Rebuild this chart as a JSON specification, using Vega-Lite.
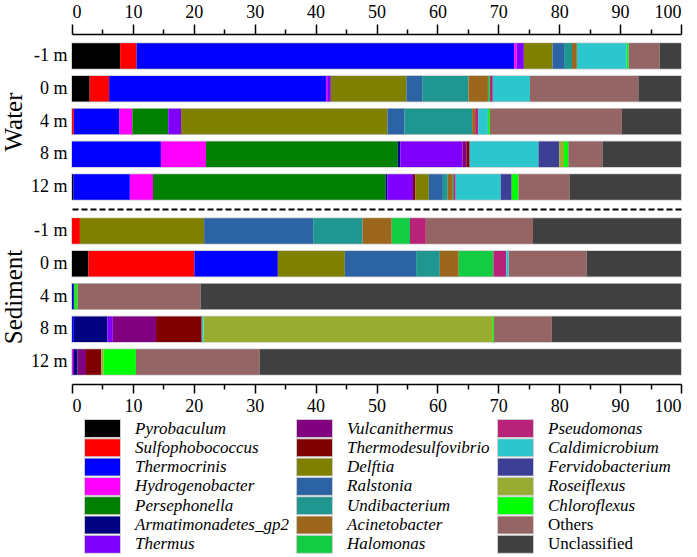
{
  "$schema": "https://vega.github.io/schema/vega-lite/v6.json",
  "padding": {"left": 1, "top": 3, "right": 3, "bottom": 0},
  "config": {
    "font": "Liberation Serif",
    "view": {"stroke": null},
    "concat": {"spacing": 0},
    "axis": {"labelFont": "Liberation Serif", "titleFont": "Liberation Serif", "labelColor": "#000", "titleColor": "#000", "domainColor": "#000", "tickColor": "#000"}
  },
  "datasets": {
    "taxa": [
      {"taxon": "Pyrobaculum", "rank": 0},
      {"taxon": "Sulfophobococcus", "rank": 1},
      {"taxon": "Thermocrinis", "rank": 2},
      {"taxon": "Hydrogenobacter", "rank": 3},
      {"taxon": "Persephonella", "rank": 4},
      {"taxon": "Armatimonadetes_gp2", "rank": 5},
      {"taxon": "Thermus", "rank": 6},
      {"taxon": "Vulcanithermus", "rank": 7},
      {"taxon": "Thermodesulfovibrio", "rank": 8},
      {"taxon": "Delftia", "rank": 9},
      {"taxon": "Ralstonia", "rank": 10},
      {"taxon": "Undibacterium", "rank": 11},
      {"taxon": "Acinetobacter", "rank": 12},
      {"taxon": "Halomonas", "rank": 13},
      {"taxon": "Pseudomonas", "rank": 14},
      {"taxon": "Caldimicrobium", "rank": 15},
      {"taxon": "Fervidobacterium", "rank": 16},
      {"taxon": "Roseiflexus", "rank": 17},
      {"taxon": "Chloroflexus", "rank": 18},
      {"taxon": "Others", "rank": 19},
      {"taxon": "Unclassified", "rank": 20}
    ],
    "comp": [
      {"env": "Water", "depth": "-1 m", "taxon": "Pyrobaculum", "pct": 7.9},
      {"env": "Water", "depth": "-1 m", "taxon": "Sulfophobococcus", "pct": 2.7},
      {"env": "Water", "depth": "-1 m", "taxon": "Thermocrinis", "pct": 62.0},
      {"env": "Water", "depth": "-1 m", "taxon": "Hydrogenobacter", "pct": 0.4},
      {"env": "Water", "depth": "-1 m", "taxon": "Thermus", "pct": 1.2},
      {"env": "Water", "depth": "-1 m", "taxon": "Delftia", "pct": 4.7},
      {"env": "Water", "depth": "-1 m", "taxon": "Ralstonia", "pct": 1.9},
      {"env": "Water", "depth": "-1 m", "taxon": "Undibacterium", "pct": 1.3},
      {"env": "Water", "depth": "-1 m", "taxon": "Acinetobacter", "pct": 0.8},
      {"env": "Water", "depth": "-1 m", "taxon": "Caldimicrobium", "pct": 8.2},
      {"env": "Water", "depth": "-1 m", "taxon": "Chloroflexus", "pct": 0.3},
      {"env": "Water", "depth": "-1 m", "taxon": "Others", "pct": 5.1},
      {"env": "Water", "depth": "-1 m", "taxon": "Unclassified", "pct": 3.5},

      {"env": "Water", "depth": "0 m", "taxon": "Pyrobaculum", "pct": 2.9},
      {"env": "Water", "depth": "0 m", "taxon": "Sulfophobococcus", "pct": 3.2},
      {"env": "Water", "depth": "0 m", "taxon": "Thermocrinis", "pct": 35.6},
      {"env": "Water", "depth": "0 m", "taxon": "Hydrogenobacter", "pct": 0.2},
      {"env": "Water", "depth": "0 m", "taxon": "Thermus", "pct": 0.6},
      {"env": "Water", "depth": "0 m", "taxon": "Delftia", "pct": 12.4},
      {"env": "Water", "depth": "0 m", "taxon": "Ralstonia", "pct": 2.6},
      {"env": "Water", "depth": "0 m", "taxon": "Undibacterium", "pct": 7.6},
      {"env": "Water", "depth": "0 m", "taxon": "Acinetobacter", "pct": 3.2},
      {"env": "Water", "depth": "0 m", "taxon": "Halomonas", "pct": 0.3},
      {"env": "Water", "depth": "0 m", "taxon": "Pseudomonas", "pct": 0.5},
      {"env": "Water", "depth": "0 m", "taxon": "Caldimicrobium", "pct": 6.1},
      {"env": "Water", "depth": "0 m", "taxon": "Others", "pct": 17.8},
      {"env": "Water", "depth": "0 m", "taxon": "Unclassified", "pct": 7.0},

      {"env": "Water", "depth": "4 m", "taxon": "Sulfophobococcus", "pct": 0.3},
      {"env": "Water", "depth": "4 m", "taxon": "Thermocrinis", "pct": 7.5},
      {"env": "Water", "depth": "4 m", "taxon": "Hydrogenobacter", "pct": 2.1},
      {"env": "Water", "depth": "4 m", "taxon": "Persephonella", "pct": 5.9},
      {"env": "Water", "depth": "4 m", "taxon": "Thermus", "pct": 2.1},
      {"env": "Water", "depth": "4 m", "taxon": "Delftia", "pct": 33.9},
      {"env": "Water", "depth": "4 m", "taxon": "Ralstonia", "pct": 2.8},
      {"env": "Water", "depth": "4 m", "taxon": "Undibacterium", "pct": 11.1},
      {"env": "Water", "depth": "4 m", "taxon": "Acinetobacter", "pct": 0.5},
      {"env": "Water", "depth": "4 m", "taxon": "Pseudomonas", "pct": 0.5},
      {"env": "Water", "depth": "4 m", "taxon": "Caldimicrobium", "pct": 1.6},
      {"env": "Water", "depth": "4 m", "taxon": "Chloroflexus", "pct": 0.3},
      {"env": "Water", "depth": "4 m", "taxon": "Others", "pct": 21.7},
      {"env": "Water", "depth": "4 m", "taxon": "Unclassified", "pct": 9.7},

      {"env": "Water", "depth": "8 m", "taxon": "Thermocrinis", "pct": 14.6},
      {"env": "Water", "depth": "8 m", "taxon": "Hydrogenobacter", "pct": 7.4},
      {"env": "Water", "depth": "8 m", "taxon": "Persephonella", "pct": 31.5},
      {"env": "Water", "depth": "8 m", "taxon": "Armatimonadetes_gp2", "pct": 0.4},
      {"env": "Water", "depth": "8 m", "taxon": "Thermus", "pct": 10.2},
      {"env": "Water", "depth": "8 m", "taxon": "Vulcanithermus", "pct": 0.7},
      {"env": "Water", "depth": "8 m", "taxon": "Thermodesulfovibrio", "pct": 0.5},
      {"env": "Water", "depth": "8 m", "taxon": "Caldimicrobium", "pct": 11.3},
      {"env": "Water", "depth": "8 m", "taxon": "Fervidobacterium", "pct": 3.4},
      {"env": "Water", "depth": "8 m", "taxon": "Roseiflexus", "pct": 0.8},
      {"env": "Water", "depth": "8 m", "taxon": "Chloroflexus", "pct": 0.7},
      {"env": "Water", "depth": "8 m", "taxon": "Others", "pct": 5.6},
      {"env": "Water", "depth": "8 m", "taxon": "Unclassified", "pct": 12.9},

      {"env": "Water", "depth": "12 m", "taxon": "Pyrobaculum", "pct": 0.2},
      {"env": "Water", "depth": "12 m", "taxon": "Thermocrinis", "pct": 9.3},
      {"env": "Water", "depth": "12 m", "taxon": "Hydrogenobacter", "pct": 3.8},
      {"env": "Water", "depth": "12 m", "taxon": "Persephonella", "pct": 38.2},
      {"env": "Water", "depth": "12 m", "taxon": "Armatimonadetes_gp2", "pct": 0.3},
      {"env": "Water", "depth": "12 m", "taxon": "Thermus", "pct": 4.2},
      {"env": "Water", "depth": "12 m", "taxon": "Thermodesulfovibrio", "pct": 0.4},
      {"env": "Water", "depth": "12 m", "taxon": "Delftia", "pct": 2.2},
      {"env": "Water", "depth": "12 m", "taxon": "Ralstonia", "pct": 2.3},
      {"env": "Water", "depth": "12 m", "taxon": "Undibacterium", "pct": 0.8},
      {"env": "Water", "depth": "12 m", "taxon": "Acinetobacter", "pct": 0.7},
      {"env": "Water", "depth": "12 m", "taxon": "Halomonas", "pct": 0.2},
      {"env": "Water", "depth": "12 m", "taxon": "Pseudomonas", "pct": 0.4},
      {"env": "Water", "depth": "12 m", "taxon": "Caldimicrobium", "pct": 7.4},
      {"env": "Water", "depth": "12 m", "taxon": "Fervidobacterium", "pct": 1.8},
      {"env": "Water", "depth": "12 m", "taxon": "Chloroflexus", "pct": 1.1},
      {"env": "Water", "depth": "12 m", "taxon": "Others", "pct": 8.4},
      {"env": "Water", "depth": "12 m", "taxon": "Unclassified", "pct": 18.3},

      {"env": "Sediment", "depth": "-1 m", "taxon": "Sulfophobococcus", "pct": 1.3},
      {"env": "Sediment", "depth": "-1 m", "taxon": "Delftia", "pct": 20.4},
      {"env": "Sediment", "depth": "-1 m", "taxon": "Ralstonia", "pct": 17.9},
      {"env": "Sediment", "depth": "-1 m", "taxon": "Undibacterium", "pct": 8.1},
      {"env": "Sediment", "depth": "-1 m", "taxon": "Acinetobacter", "pct": 4.8},
      {"env": "Sediment", "depth": "-1 m", "taxon": "Halomonas", "pct": 3.0},
      {"env": "Sediment", "depth": "-1 m", "taxon": "Pseudomonas", "pct": 2.6},
      {"env": "Sediment", "depth": "-1 m", "taxon": "Others", "pct": 17.6},
      {"env": "Sediment", "depth": "-1 m", "taxon": "Unclassified", "pct": 24.3},

      {"env": "Sediment", "depth": "0 m", "taxon": "Pyrobaculum", "pct": 2.7},
      {"env": "Sediment", "depth": "0 m", "taxon": "Sulfophobococcus", "pct": 17.4},
      {"env": "Sediment", "depth": "0 m", "taxon": "Thermocrinis", "pct": 13.7},
      {"env": "Sediment", "depth": "0 m", "taxon": "Delftia", "pct": 11.0},
      {"env": "Sediment", "depth": "0 m", "taxon": "Ralstonia", "pct": 11.7},
      {"env": "Sediment", "depth": "0 m", "taxon": "Undibacterium", "pct": 3.9},
      {"env": "Sediment", "depth": "0 m", "taxon": "Acinetobacter", "pct": 3.1},
      {"env": "Sediment", "depth": "0 m", "taxon": "Halomonas", "pct": 5.7},
      {"env": "Sediment", "depth": "0 m", "taxon": "Pseudomonas", "pct": 2.1},
      {"env": "Sediment", "depth": "0 m", "taxon": "Caldimicrobium", "pct": 0.4},
      {"env": "Sediment", "depth": "0 m", "taxon": "Others", "pct": 12.8},
      {"env": "Sediment", "depth": "0 m", "taxon": "Unclassified", "pct": 15.5},

      {"env": "Sediment", "depth": "4 m", "taxon": "Thermocrinis", "pct": 0.2},
      {"env": "Sediment", "depth": "4 m", "taxon": "Armatimonadetes_gp2", "pct": 0.2},
      {"env": "Sediment", "depth": "4 m", "taxon": "Chloroflexus", "pct": 0.5},
      {"env": "Sediment", "depth": "4 m", "taxon": "Others", "pct": 20.2},
      {"env": "Sediment", "depth": "4 m", "taxon": "Unclassified", "pct": 78.9},

      {"env": "Sediment", "depth": "8 m", "taxon": "Thermocrinis", "pct": 0.3},
      {"env": "Sediment", "depth": "8 m", "taxon": "Armatimonadetes_gp2", "pct": 5.5},
      {"env": "Sediment", "depth": "8 m", "taxon": "Thermus", "pct": 0.9},
      {"env": "Sediment", "depth": "8 m", "taxon": "Vulcanithermus", "pct": 7.1},
      {"env": "Sediment", "depth": "8 m", "taxon": "Thermodesulfovibrio", "pct": 7.5},
      {"env": "Sediment", "depth": "8 m", "taxon": "Caldimicrobium", "pct": 0.3},
      {"env": "Sediment", "depth": "8 m", "taxon": "Roseiflexus", "pct": 47.5},
      {"env": "Sediment", "depth": "8 m", "taxon": "Chloroflexus", "pct": 0.2},
      {"env": "Sediment", "depth": "8 m", "taxon": "Others", "pct": 9.5},
      {"env": "Sediment", "depth": "8 m", "taxon": "Unclassified", "pct": 21.2},

      {"env": "Sediment", "depth": "12 m", "taxon": "Hydrogenobacter", "pct": 0.2},
      {"env": "Sediment", "depth": "12 m", "taxon": "Armatimonadetes_gp2", "pct": 0.7},
      {"env": "Sediment", "depth": "12 m", "taxon": "Vulcanithermus", "pct": 1.4},
      {"env": "Sediment", "depth": "12 m", "taxon": "Thermodesulfovibrio", "pct": 2.5},
      {"env": "Sediment", "depth": "12 m", "taxon": "Roseiflexus", "pct": 0.4},
      {"env": "Sediment", "depth": "12 m", "taxon": "Chloroflexus", "pct": 5.3},
      {"env": "Sediment", "depth": "12 m", "taxon": "Others", "pct": 20.3},
      {"env": "Sediment", "depth": "12 m", "taxon": "Unclassified", "pct": 69.2}
    ]
  },
  "resolve": {"scale": {"color": "shared"}},
  "vconcat": [
    {
      "width": 609,
      "height": 175,
      "data": {"name": "comp"},
      "transform": [
        {"filter": "datum.env === 'Water'"},
        {"lookup": "taxon", "from": {"data": {"name": "taxa"}, "key": "taxon", "fields": ["rank"]}}
      ],
      "encoding": {
        "y": {
          "field": "depth", "type": "nominal",
          "sort": ["-1 m", "0 m", "4 m", "8 m", "12 m"],
          "scale": {"paddingInner": 0.22, "paddingOuter": 0.28},
          "title": "Water",
          "axis": {"domain": false, "ticks": false, "labelFontSize": 18, "labelPadding": 5, "titleFontSize": 25, "titleFontWeight": "normal", "titlePadding": 4}
        }
      },
      "layer": [
        {
          "mark": {"type": "bar", "fill": "#ffffff", "stroke": "#c8c8c8", "strokeWidth": 1.5},
          "encoding": {
            "x": {
              "aggregate": "sum", "field": "pct", "type": "quantitative",
              "scale": {"domain": [0, 100]},
              "title": null,
              "axis": {
                "orient": "top",
                "values": [0, 5, 10, 15, 20, 25, 30, 35, 40, 45, 50, 55, 60, 65, 70, 75, 80, 85, 90, 95, 100],
                "labelExpr": "datum.value % 10 === 0 ? datum.label : ''",
                "tickSize": {"condition": {"test": "datum.value % 10 === 0", "value": 10}, "value": 5},
                "tickWidth": 1.5, "domainWidth": 1.5,
                "labelFontSize": 18, "labelPadding": 3, "grid": false
              }
            }
          }
        },
        {
          "mark": {"type": "bar"},
          "encoding": {
            "x": {
              "field": "pct", "type": "quantitative", "stack": "zero",
              "scale": {"domain": [0, 100]},
              "title": null,
              "axis": {
                "orient": "top",
                "values": [0, 5, 10, 15, 20, 25, 30, 35, 40, 45, 50, 55, 60, 65, 70, 75, 80, 85, 90, 95, 100],
                "labelExpr": "datum.value % 10 === 0 ? datum.label : ''",
                "tickSize": {"condition": {"test": "datum.value % 10 === 0", "value": 10}, "value": 5},
                "tickWidth": 1.5, "domainWidth": 1.5,
                "labelFontSize": 18, "labelPadding": 3, "grid": false
              }
            },
            "color": {
              "field": "taxon", "type": "nominal",
              "scale": {
                "domain": ["Pyrobaculum", "Sulfophobococcus", "Thermocrinis", "Hydrogenobacter", "Persephonella", "Armatimonadetes_gp2", "Thermus", "Vulcanithermus", "Thermodesulfovibrio", "Delftia", "Ralstonia", "Undibacterium", "Acinetobacter", "Halomonas", "Pseudomonas", "Caldimicrobium", "Fervidobacterium", "Roseiflexus", "Chloroflexus", "Others", "Unclassified"],
                "range": ["#000000", "#ff0000", "#0000ff", "#ff00ff", "#008000", "#000080", "#8000ff", "#800080", "#800000", "#808000", "#2c63a5", "#1f9690", "#9c661c", "#13cc44", "#b92279", "#2cc7cc", "#3d3e95", "#97ac30", "#00ff00", "#956565", "#404040"]
              },
              "legend": {
                "orient": "bottom",
                "title": null,
                "columns": 3,
                "gridAlign": "each",
                "values": ["Pyrobaculum", "Vulcanithermus", "Pseudomonas", "Sulfophobococcus", "Thermodesulfovibrio", "Caldimicrobium", "Thermocrinis", "Delftia", "Fervidobacterium", "Hydrogenobacter", "Ralstonia", "Roseiflexus", "Persephonella", "Undibacterium", "Chloroflexus", "Armatimonadetes_gp2", "Acinetobacter", "Others", "Thermus", "Halomonas", "Unclassified"],
                "symbolType": "M-2,-1H2V1H-2Z",
                "symbolSize": 324,
                "symbolOffset": 9,
                "symbolStrokeColor": "#cccccc",
                "symbolStrokeWidth": 1,
                "labelFont": "Liberation Serif",
                "labelFontSize": 17,
                "labelColor": "#000",
                "labelLimit": 400,
                "labelOffset": 23,
                "clipHeight": 19,
                "rowPadding": 0.3,
                "columnPadding": 7,
                "padding": 12,
                "offset": -8,
                "encode": {"labels": {"update": {"fontStyle": {"signal": "datum.value === 'Others' || datum.value === 'Unclassified' ? 'normal' : 'italic'"}}}}
              }
            },
            "order": {"field": "rank", "type": "quantitative"}
          }
        }
      ]
    },
    {
      "width": 609,
      "height": 175,
      "data": {"name": "comp"},
      "transform": [
        {"filter": "datum.env === 'Sediment'"},
        {"lookup": "taxon", "from": {"data": {"name": "taxa"}, "key": "taxon", "fields": ["rank"]}}
      ],
      "encoding": {
        "y": {
          "field": "depth", "type": "nominal",
          "sort": ["-1 m", "0 m", "4 m", "8 m", "12 m"],
          "scale": {"paddingInner": 0.22, "paddingOuter": 0.28},
          "title": "Sediment",
          "axis": {"domain": false, "ticks": false, "labelFontSize": 18, "labelPadding": 5, "titleFontSize": 25, "titleFontWeight": "normal", "titlePadding": 4}
        }
      },
      "layer": [
        {
          "mark": {"type": "bar", "fill": "#ffffff", "stroke": "#c8c8c8", "strokeWidth": 1.5},
          "encoding": {
            "x": {
              "aggregate": "sum", "field": "pct", "type": "quantitative",
              "scale": {"domain": [0, 100]},
              "title": null,
              "axis": {"orient": "top", "labels": false, "ticks": false, "grid": false, "domainDash": [6, 3], "domainWidth": 2}
            }
          }
        },
        {
          "mark": {"type": "bar"},
          "encoding": {
            "x": {
              "field": "pct", "type": "quantitative", "stack": "zero",
              "scale": {"domain": [0, 100]},
              "title": null,
              "axis": {
                "orient": "bottom",
                "values": [0, 5, 10, 15, 20, 25, 30, 35, 40, 45, 50, 55, 60, 65, 70, 75, 80, 85, 90, 95, 100],
                "labelExpr": "datum.value % 10 === 0 ? datum.label : ''",
                "tickSize": {"condition": {"test": "datum.value % 10 === 0", "value": 9}, "value": 5},
                "tickWidth": 1.5, "domainWidth": 1.5,
                "labelFontSize": 18, "labelPadding": 4, "grid": false
              }
            },
            "color": {"field": "taxon", "type": "nominal"},
            "order": {"field": "rank", "type": "quantitative"}
          }
        }
      ]
    }
  ]
}
